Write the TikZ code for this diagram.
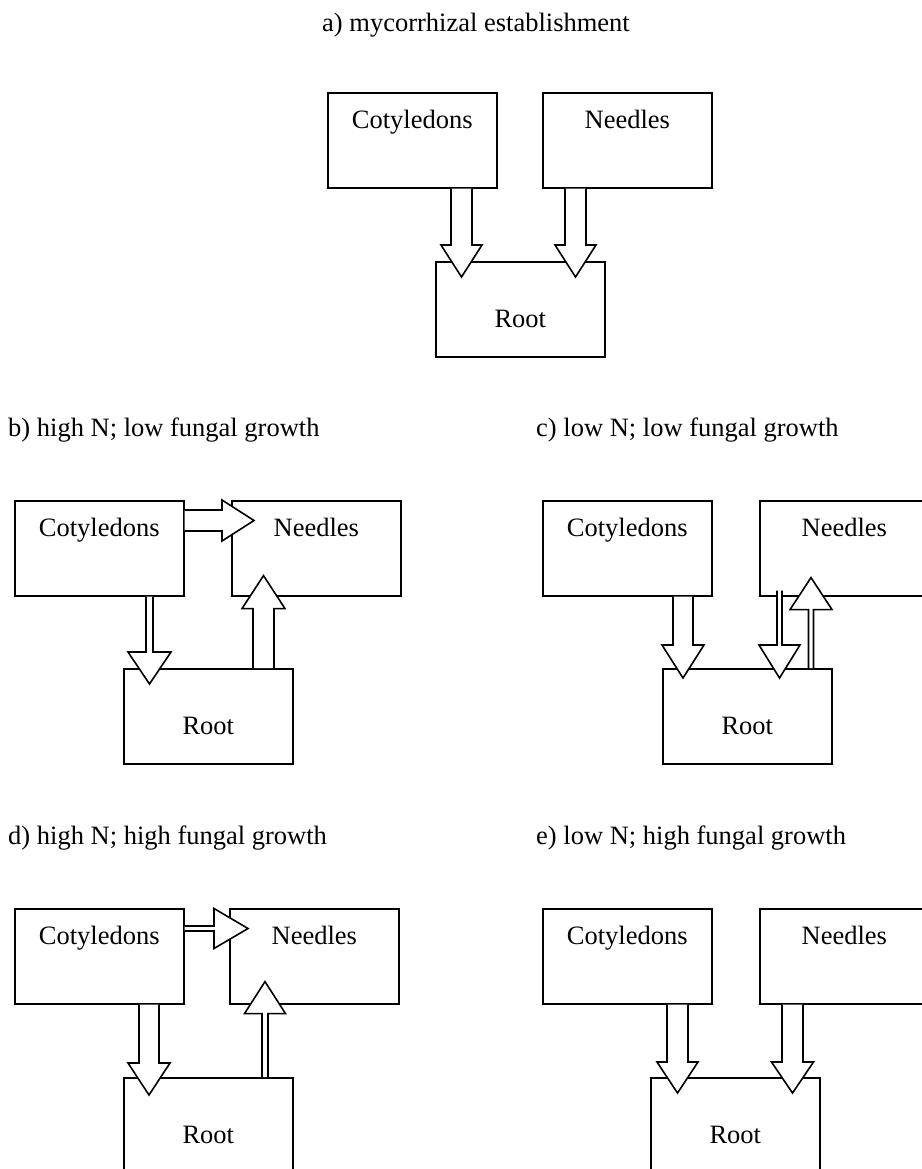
\documentclass[tikz,border=0pt]{standalone}
\usepackage{fontspec}
\setmainfont{Liberation Serif}
\usetikzlibrary{calc}
\tikzset{
  box/.style={draw, line width=1.6pt, inner sep=0pt, minimum width=169pt, minimum height=95pt, anchor=north west, font=\fontsize{26.5}{30}\selectfont},
  organ/.style={box, text height=35.5pt, text depth=59.5pt},
  rootbox/.style={box, text height=66pt, text depth=29pt},
  paneltitle/.style={anchor=base west, inner sep=0pt, font=\fontsize{26.5}{30}\selectfont},
  blockarrow/.style={draw, fill=white, line width=1.6pt, line join=miter},
}
% #1 start, #2 tip, #3 half shaft width, #4 half head width, #5 head length
\newcommand\blk[5]{%
  \path (#1) coordinate (bs) (#2) coordinate (be);
  \coordinate (bh) at ($(be)!#5!(bs)$);
  \draw[blockarrow] ($(bs)!#3!90:(be)$) -- ($(bh)!#3!-90:(bs)$) -- ($(bh)!#4!-90:(bs)$) -- (be)
     -- ($(bh)!#4!90:(bs)$) -- ($(bh)!#3!90:(bs)$) -- ($(bs)!#3!-90:(be)$);
}
\begin{document}
\begin{tikzpicture}[x=1pt, y=-1pt]
\useasboundingbox (0,0) rectangle (921,1169);
\fill[white] (0,0) rectangle (921,1169);

% panel a
\node[paneltitle] (tA) at (322,31.5) {a) mycorrhizal establishment};
\node[organ] (cotA) at (327,92) {Cotyledons};
\node[organ] (needA) at (542,92) {Needles};
\node[rootbox] (rootA) at (435,261) {Root};
\blk{[xshift=134.5pt]cotA.south west}{[xshift=26.5pt,yshift=-16pt]rootA.north west}{10.5pt}{20.5pt}{32pt}
\blk{[xshift=33.5pt]needA.south west}{[xshift=140.5pt,yshift=-16pt]rootA.north west}{10.5pt}{20.5pt}{32pt}

% panel b
\node[paneltitle] (tB) at (8,436) {b) high N; low fungal growth};
\node[organ] (cotB) at (14,500) {Cotyledons};
\node[organ] (needB) at (231,500) {Needles};
\node[rootbox] (rootB) at (123,668) {Root};
\blk{[yshift=-20.5pt]cotB.north east}{[xshift=23pt,yshift=-20.5pt]needB.north west}{10.5pt}{20.5pt}{32pt}
\blk{[xshift=135.5pt]cotB.south west}{[xshift=26.5pt,yshift=-16pt]rootB.north west}{3.5pt}{21.5pt}{32pt}
\blk{[xshift=140.5pt]rootB.north west}{[xshift=32.5pt,yshift=21pt]needB.south west}{10.5pt}{21.5pt}{33pt}

% panel c
\node[paneltitle] (tC) at (536,436) {c) low N; low fungal growth};
\node[organ] (cotC) at (542,500) {Cotyledons};
\node[organ] (needC) at (759,500) {Needles};
\node[rootbox] (rootC) at (662,668) {Root};
\blk{[xshift=141pt]cotC.south west}{[xshift=21pt,yshift=-10pt]rootC.north west}{10pt}{21pt}{33pt}
\blk{[xshift=20.5pt,yshift=6pt]needC.south west}{[xshift=117.5pt,yshift=-10pt]rootC.north west}{2.5pt}{20.5pt}{33pt}
\blk{[xshift=149pt]rootC.north west}{[xshift=52pt,yshift=19pt]needC.south west}{2.5pt}{21pt}{32pt}

% panel d
\node[paneltitle] (tD) at (8,844) {d) high N; high fungal growth};
\node[organ] (cotD) at (14,908) {Cotyledons};
\node[organ] (needD) at (229,908) {Needles};
\node[rootbox] (rootD) at (123,1077) {Root};
\blk{[yshift=-20.5pt]cotD.north east}{[xshift=19pt,yshift=-20.5pt]needD.north west}{2.5pt}{20pt}{34pt}
\blk{[xshift=135pt]cotD.south west}{[xshift=26pt,yshift=-18pt]rootD.north west}{10pt}{21pt}{32pt}
\blk{[xshift=142pt]rootD.north west}{[xshift=36pt,yshift=23pt]needD.south west}{3pt}{20.5pt}{32pt}

% panel e
\node[paneltitle] (tE) at (536,844) {e) low N; high fungal growth};
\node[organ] (cotE) at (542,908) {Cotyledons};
\node[organ] (needE) at (759,908) {Needles};
\node[rootbox] (rootE) at (650,1077) {Root};
\blk{[xshift=135.5pt]cotE.south west}{[xshift=27.5pt,yshift=-16pt]rootE.north west}{10.5pt}{20.5pt}{31pt}
\blk{[xshift=33.5pt]needE.south west}{[xshift=142.5pt,yshift=-16pt]rootE.north west}{10.5pt}{21pt}{31pt}
\end{tikzpicture}
\end{document}
